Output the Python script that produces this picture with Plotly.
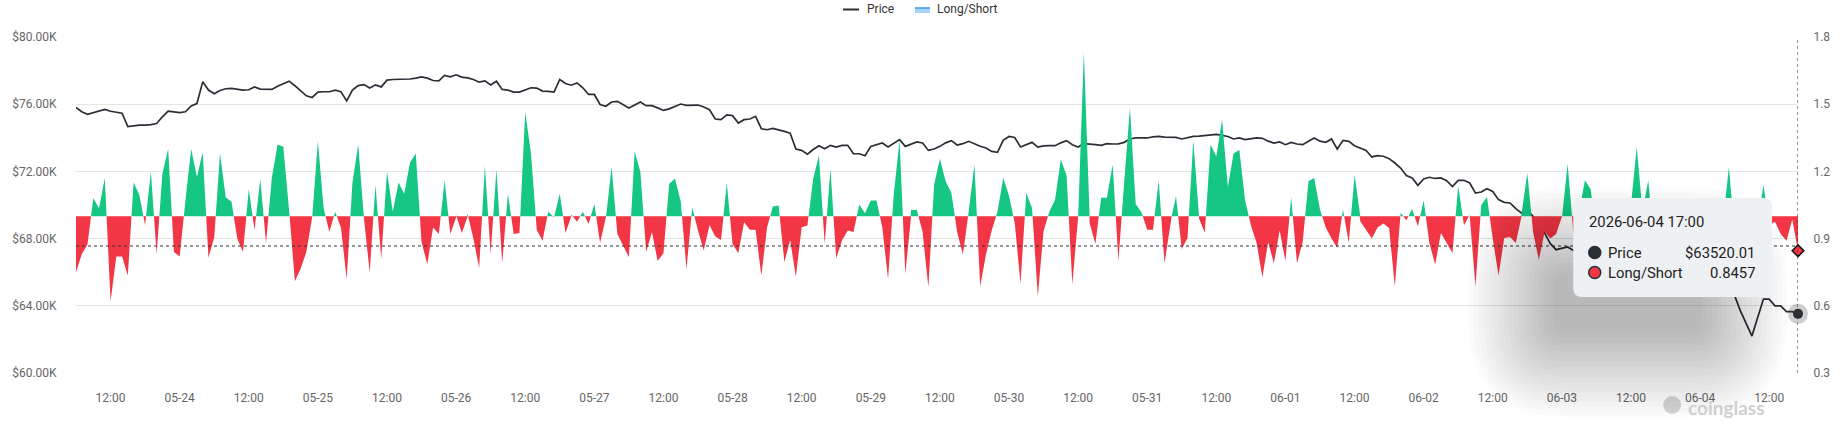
import numpy as np
import pandas as pd
import plotly.graph_objects as go

# hourly data, 2026-05-23 06:00 -> 2026-06-04 17:00
start = "2026-05-23 06:00"

price_k = [
    75.80, 75.55, 75.40, 75.50, 75.60, 75.69, 75.58, 75.52, 75.46, 74.67,
    74.72, 74.75, 74.76, 74.78, 74.85, 75.25, 75.58, 75.55, 75.50, 75.55,
    75.90, 76.04, 77.33, 76.84, 76.62, 76.82, 76.92, 76.94, 76.90, 76.84,
    76.86, 77.03, 76.90, 76.88, 76.88, 77.07, 77.23, 77.37, 77.10, 76.78,
    76.50, 76.40, 76.72, 76.74, 76.74, 76.84, 76.74, 76.20, 76.84, 77.11,
    77.17, 76.96, 77.15, 77.03, 77.43, 77.47, 77.47, 77.47, 77.50, 77.55,
    77.63, 77.55, 77.41, 77.39, 77.71, 77.63, 77.75, 77.61, 77.57, 77.47,
    77.31, 77.39, 77.15, 77.37, 76.88, 76.84, 76.72, 76.72, 76.84, 76.98,
    76.96, 76.78, 76.76, 76.72, 77.47, 77.23, 77.13, 77.27, 76.98, 76.58,
    76.58, 75.98, 75.88, 76.13, 76.17, 75.97, 75.77, 75.95, 76.13, 75.91,
    75.91, 75.78, 75.63, 75.72, 75.85, 76.01, 75.93, 75.94, 75.95, 75.83,
    75.67, 75.12, 75.08, 75.36, 75.32, 74.88, 75.08, 75.12, 75.28, 74.54,
    74.48, 74.56, 74.45, 74.38, 74.28, 73.33, 73.25, 73.03, 73.30, 73.53,
    73.35, 73.55, 73.45, 73.55, 73.55, 73.05, 73.05, 72.93, 73.49, 73.60,
    73.69, 73.45, 73.65, 73.89, 73.49, 73.60, 73.75, 73.69, 73.25, 73.33,
    73.49, 73.70, 73.83, 73.57, 73.65, 73.79, 73.63, 73.50, 73.39, 73.19,
    73.13, 73.85, 74.08, 74.02, 73.45, 73.59, 73.73, 73.45, 73.52, 73.53,
    73.53, 73.70, 73.83, 73.59, 73.45, 73.65, 73.60, 73.59, 73.55, 73.65,
    73.63, 73.64, 73.73, 73.93, 73.99, 73.99, 73.99, 74.05, 74.08, 74.04,
    74.03, 74.02, 73.93, 74.00, 74.08, 74.10, 74.12, 74.16, 74.20, 74.14,
    74.08, 73.93, 73.99, 73.89, 73.95, 73.99, 73.97, 73.80, 73.69, 73.75,
    73.59, 73.73, 73.63, 73.59, 73.79, 73.99, 73.80, 73.73, 73.93, 73.33,
    73.85, 73.79, 73.53, 73.40, 73.25, 72.86, 72.94, 72.90, 72.76, 72.50,
    72.20, 71.75, 71.61, 71.17, 71.55, 71.65, 71.58, 71.61, 71.45, 71.10,
    71.47, 71.47, 71.31, 70.71, 70.77, 70.97, 70.81, 70.32, 70.16, 70.12,
    69.78, 69.52, 69.68, 69.32, 68.89, 68.33, 67.70, 67.34, 67.44, 67.50,
    67.30, 67.35, 67.20, 67.25, 67.10, 67.30, 67.15, 67.00, 66.90, 67.05,
    66.85, 66.70, 66.80, 66.60, 66.45, 66.55, 66.30, 66.20, 66.35, 66.10,
    65.90, 66.00, 65.70, 65.60, 65.40, 65.50, 65.20, 65.00, 64.60, 63.70,
    62.90, 62.20, 63.30, 64.40, 64.40, 64.00, 64.00, 63.65, 63.65, 63.52001,
]

long_short = [
    0.75, 0.83, 0.875, 1.08, 1.035, 1.17, 0.62, 0.82, 0.82, 0.735,
    1.15, 1.095, 0.96, 1.20, 0.83, 1.19, 1.30, 0.84, 0.82, 1.07,
    1.30, 1.175, 1.285, 0.815, 0.905, 1.28, 1.085, 1.065, 0.90, 0.84,
    1.12, 0.94, 1.165, 0.88, 1.17, 1.32, 1.31, 1.03, 0.71, 0.765,
    0.84, 0.99, 1.335, 1.035, 0.93, 1.02, 0.95, 0.72, 1.15, 1.32,
    0.99, 0.75, 1.14, 0.81, 1.20, 1.02, 1.15, 1.10, 1.24, 1.28,
    0.885, 0.785, 0.95, 0.92, 1.16, 0.92, 1.005, 0.925, 1.01, 0.90,
    0.77, 1.225, 0.83, 1.21, 0.79, 1.10, 0.92, 0.925, 1.465, 1.28,
    0.94, 0.89, 1.02, 0.995, 1.10, 0.925, 1.008, 0.975, 1.02, 0.965,
    1.055, 0.88, 0.99, 1.22, 0.92, 0.87, 0.817, 1.29, 1.197, 0.84,
    0.93, 0.80, 0.835, 1.145, 1.167, 1.067, 0.765, 1.04, 0.936, 0.847,
    0.961, 0.909, 0.894, 1.147, 0.876, 0.835, 0.973, 0.939, 0.939, 0.735,
    0.951, 1.043, 1.048, 0.795, 0.894, 0.73, 0.951, 0.958, 1.167, 1.271,
    0.876, 1.211, 0.812, 0.891, 0.936, 0.929, 1.052, 1.013, 1.07, 1.07,
    0.95, 0.72, 1.10, 1.338, 0.742, 1.028, 1.028, 0.929, 0.683, 1.14,
    1.256, 1.156, 1.104, 0.929, 0.829, 1.02, 1.231, 0.686, 0.829, 0.936,
    1.02, 1.171, 1.092, 0.97, 0.698, 1.104, 1.037, 0.643, 0.933, 1.02,
    1.073, 1.253, 1.182, 0.695, 0.99, 1.733, 0.97, 0.876, 1.082, 1.082,
    1.231, 0.80, 1.15, 1.484, 1.055, 1.018, 0.94, 0.94, 1.159, 0.79,
    0.97, 1.089, 0.854, 0.903, 1.338, 0.99, 0.926, 1.32, 1.267, 1.432,
    1.13, 1.281, 1.296, 1.07, 0.96, 0.88, 0.728, 0.884, 0.79, 0.936,
    0.80, 1.085, 0.79, 0.885, 1.156, 1.171, 1.03, 0.95, 0.90, 0.858,
    1.03, 0.88, 1.185, 0.977, 0.94, 0.90, 0.95, 0.967, 0.947, 0.687,
    1.015, 0.982, 1.032, 0.955, 1.07, 0.88, 0.784, 0.925, 0.88, 0.836,
    1.136, 0.96, 1.007, 0.687, 1.05, 1.086, 0.90, 0.735, 0.903, 0.907,
    0.88, 1.01, 1.193, 0.93, 0.806, 0.93, 0.90, 0.92, 0.99, 1.233,
    0.925, 1.02, 1.16, 1.12, 0.92, 0.85, 0.95, 0.80, 0.93, 0.98,
    1.05, 1.31, 1.02, 1.16, 0.88, 0.82, 0.94, 0.90, 0.76, 0.92,
    0.97, 0.86, 0.93, 0.80, 0.95, 0.91, 0.98, 1.22, 0.92, 0.87,
    0.95, 0.90, 0.97, 1.14, 0.96, 0.975, 0.92, 0.89, 0.985, 0.8457,
]

price_ticks = [60000, 64000, 68000, 72000, 76000, 80000]
ratio_ticks = [0.3, 0.6, 0.9, 1.2, 1.5, 1.8]
baseline = 1.0

tip_time = "2026-06-04 17:00"
tip_price = "$63520.01"
tip_ratio = "0.8457"

GREEN = "#16c784"
RED = "#f23645"
DARK = "#2a2e35"

times = pd.date_range(start, periods=len(price_k), freq="h")
price = [v * 1000 for v in price_k]

# split ratio into above / below baseline, adding the baseline crossings
t_ms = times.asi8 // 10**6
xs, ys = [], []
for i, r in enumerate(long_short):
    if i > 0:
        r0 = long_short[i - 1]
        if (r0 - baseline) * (r - baseline) < 0:
            f = (baseline - r0) / (r - r0)
            xs.append(t_ms[i - 1] + f * (t_ms[i] - t_ms[i - 1]))
            ys.append(baseline)
    xs.append(t_ms[i])
    ys.append(r)
xs = pd.to_datetime(np.array(xs, dtype="float64"), unit="ms")
ys = np.array(ys)
up = np.maximum(ys, baseline)
dn = np.minimum(ys, baseline)
xpoly = list(xs) + list(xs[::-1])

fig = go.Figure()
fig.add_trace(go.Scatter(x=xpoly, y=list(up) + [baseline] * len(xs), yaxis="y2",
                         fill="toself", fillcolor=GREEN, line=dict(width=0),
                         mode="lines", hoverinfo="skip"))
fig.add_trace(go.Scatter(x=xpoly, y=list(dn) + [baseline] * len(xs), yaxis="y2",
                         fill="toself", fillcolor=RED, line=dict(width=0),
                         mode="lines", hoverinfo="skip"))
fig.add_trace(go.Scatter(x=times, y=price, mode="lines",
                         line=dict(color=DARK, width=1.7)))

# end point markers
fig.add_trace(go.Scatter(x=[times[-1]], y=[long_short[-1]], yaxis="y2", mode="markers",
                         marker=dict(symbol="diamond", size=9, color=RED,
                                     line=dict(color="#111", width=1.5)),
                         cliponaxis=False))
fig.add_trace(go.Scatter(x=[times[-1]], y=[price[-1]], mode="markers",
                         marker=dict(size=20, color="rgba(60,60,60,0.25)"),
                         cliponaxis=False))
fig.add_trace(go.Scatter(x=[times[-1]], y=[price[-1]], mode="markers",
                         marker=dict(size=10, color=DARK), cliponaxis=False))

tickvals = pd.date_range("2026-05-23 12:00", "2026-06-04 12:00", freq="12h")
ticktext = ["12:00" if t.hour == 12 else t.strftime("%m-%d") for t in tickvals]

# plot area in pixels
L, R, T, B = 76, 1800, 37, 373
W, H = R - L, B - T


def px_x(x):
    return (x - L) / W


def px_y(y):
    return (B - y) / H


def round_rect(x0, y0, x1, y1, r):
    def p(x, y):
        return f"{px_x(x):.5f},{px_y(y):.5f}"
    return (f"M{p(x0 + r, y0)} L{p(x1 - r, y0)} Q{p(x1, y0)} {p(x1, y0 + r)} "
            f"L{p(x1, y1 - r)} Q{p(x1, y1)} {p(x1 - r, y1)} L{p(x0 + r, y1)} "
            f"Q{p(x0, y1)} {p(x0, y1 - r)} L{p(x0, y0 + r)} Q{p(x0, y0)} {p(x0 + r, y0)} Z")


shapes = []
# crosshair
shapes.append(dict(type="line", xref="x", yref="paper", x0=times[-1], x1=times[-1],
                   y0=0, y1=1, line=dict(color="#333", width=1, dash="dot"), layer="above"))
shapes.append(dict(type="line", xref="paper", yref="y2", x0=0, x1=1, y0=0.867, y1=0.867,
                   line=dict(color="#333", width=1, dash="dot"), layer="above"))

# tooltip with a soft shadow
bx0, by0, bx1, by1 = 1575, 198, 1774, 297
for k in range(18):
    e = 5 * k
    shapes.append(dict(type="path", xref="paper", yref="paper", layer="above",
                       path=round_rect(bx0 - 45 - e + 25, by0 + 55 - e + 20,
                                       bx1 - 45 + e - 25, by1 + 55 + e - 20, 12 + e),
                       fillcolor="rgba(0,0,0,0.016)", line=dict(width=0)))
shapes.append(dict(type="path", xref="paper", yref="paper", layer="above",
                   path=round_rect(bx0, by0, bx1, by1, 9),
                   fillcolor="#eef1f4", line=dict(width=0)))
for cy, col in [(252.5, DARK), (272.5, RED)]:
    shapes.append(dict(type="circle", xref="paper", yref="paper", layer="above",
                       x0=px_x(1590.5), x1=px_x(1602.5), y0=px_y(cy + 6), y1=px_y(cy - 6),
                       fillcolor=col, line=dict(color=DARK, width=1.5)))

# legend
shapes.append(dict(type="line", xref="paper", yref="paper", layer="above",
                   x0=px_x(844), x1=px_x(860), y0=px_y(9.5), y1=px_y(9.5),
                   line=dict(color=DARK, width=2)))
shapes.append(dict(type="rect", xref="paper", yref="paper", layer="above",
                   x0=px_x(916), x1=px_x(931), y0=px_y(13), y1=px_y(7.5),
                   fillcolor="#a8d5f7", line=dict(width=0)))
shapes.append(dict(type="line", xref="paper", yref="paper", layer="above",
                   x0=px_x(916), x1=px_x(931), y0=px_y(8), y1=px_y(8),
                   line=dict(color="#3a9ee8", width=1.5)))
# watermark blob
shapes.append(dict(type="circle", xref="paper", yref="paper", layer="below",
                   x0=px_x(1665), x1=px_x(1683), y0=px_y(414), y1=px_y(396),
                   fillcolor="#d6d6d6", line=dict(width=0)))

txt = dict(family="Roboto", size=14.8, color="#222")
annotations = [
    dict(text=tip_time, x=px_x(1589), y=px_y(222.5), xanchor="left", yanchor="middle",
         font=txt),
    dict(text="Price", x=px_x(1608), y=px_y(252.5), xanchor="left", yanchor="middle",
         font=txt),
    dict(text=tip_price, x=px_x(1759), y=px_y(252.5), xanchor="right", yanchor="middle",
         font=txt),
    dict(text="Long/Short", x=px_x(1608), y=px_y(272.5), xanchor="left", yanchor="middle",
         font=txt),
    dict(text=tip_ratio, x=px_x(1759), y=px_y(272.5), xanchor="right", yanchor="middle",
         font=txt),
    dict(text="Price", x=px_x(866), y=px_y(9.5), xanchor="left", yanchor="middle",
         font=dict(family="Roboto", size=12, color="#333")),
    dict(text="Long/Short", x=px_x(936), y=px_y(9.5), xanchor="left", yanchor="middle",
         font=dict(family="Roboto", size=12, color="#333")),
    dict(text="<b>coinglass</b>", x=px_x(1688), y=px_y(407), xanchor="left",
         yanchor="middle", font=dict(family="Lato", size=19, color="#cfcfcf")),
]
for a in annotations:
    a.update(xref="paper", yref="paper", showarrow=False)

fig.update_layout(
    width=1842, height=424,
    margin=dict(l=L, r=1842 - R, t=T, b=424 - B),
    plot_bgcolor="white", paper_bgcolor="white",
    showlegend=False, hovermode=False,
    font=dict(family="Roboto", size=12, color="#666"),
    xaxis=dict(type="date", range=[times[0], times[-1]], tickvals=tickvals,
               ticktext=ticktext, showgrid=False, zeroline=False, showline=False,
               ticks="outside", ticklen=14, tickcolor="rgba(0,0,0,0)"),
    yaxis=dict(range=[60000, 80000], tickvals=price_ticks,
               ticktext=[f"${v / 1000:.2f}K" for v in price_ticks],
               gridcolor="#e5e5e5", zeroline=False, ticks="outside", ticklen=16,
               tickcolor="rgba(0,0,0,0)"),
    yaxis2=dict(range=[0.3, 1.8], overlaying="y", side="right", tickvals=ratio_ticks,
                ticktext=[f"{v:.1f}" for v in ratio_ticks], showgrid=False,
                zeroline=False, ticks="outside", ticklen=12, tickcolor="rgba(0,0,0,0)"),
    shapes=shapes,
    annotations=annotations,
)

fig.write_html("out.html", config={"displayModeBar": False},
               post_script="document.body.style.margin='0';document.body.style.overflow='hidden';")
